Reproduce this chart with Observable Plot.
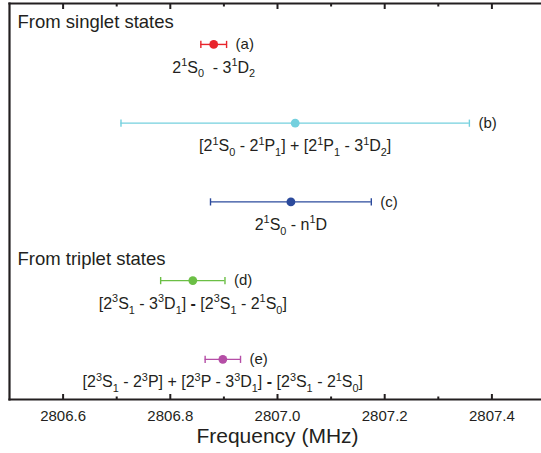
<!DOCTYPE html>
<html><head><meta charset="utf-8">
<script src="https://cdn.jsdelivr.net/npm/d3@7"></script>
<script src="https://cdn.jsdelivr.net/npm/@observablehq/plot@0.6"></script>
<style>body{margin:0;background:#fff;}</style>
</head><body><div id="chart"></div>
<script>
const ids = ["(a)", "(b)", "(c)", "(d)", "(e)"];
const rows = [0, 1, 2, 3, 4];
const centers = [2806.881, 2807.033, 2807.025, 2806.842, 2806.898];
const errors = [0.024, 0.325, 0.150, 0.060, 0.033];
const transitions = [
  "2^1S_0  - 3^1D_2",
  "[2^1S_0 - 2^1P_1] + [2^1P_1 - 3^1D_2]",
  "2^1S_0 - n^1D",
  "[2^3S_1 - 3^3D_1] {-} [2^3S_1 - 2^1S_0]",
  "[2^3S_1 - 2^3P] + [2^3P - 3^3D_1] {-} [2^3S_1 - 2^1S_0]"
];
const colors = ["#e8242b", "#74d0de", "#2b4a9c", "#6bbf45", "#b54ea6"];
const groups = ["From singlet states", "From triplet states"];
const groupRows = [0, 3];
const majorTicks = [2806.6, 2806.8, 2807.0, 2807.2, 2807.4];
const minorTicks = [2806.7, 2806.9, 2807.1, 2807.3];
const xLabel = "Frequency (MHz)";

const data = ids.map((id, i) => ({id, row: rows[i], x: centers[i], err: errors[i], label: transitions[i], color: colors[i]}));
const headings = groups.map((g, i) => ({g, row: groupRows[i]}));

const cap = {draw(ctx, size) { const r = Math.sqrt(size / Math.PI); ctx.moveTo(0, -r); ctx.lineTo(0, r); }};
const ink = "#231f20";

const chart = Plot.plot({
  width: 541, height: 453,
  marginLeft: 9, marginRight: -4, marginTop: 3, marginBottom: 54,
  style: {fontFamily: "'Liberation Sans', Arial, sans-serif", color: ink, background: "#fff", overflow: "visible"},
  x: {domain: [2806.5, 2807.5]},
  y: {domain: [-0.52, 4.51], reverse: true, axis: null},
  marks: [
    Plot.ruleY(data, {y: "row", x1: d => d.x - d.err, x2: d => d.x + d.err, stroke: "color", strokeWidth: 1.4}),
    Plot.dot(data, {x: d => d.x - d.err, y: "row", symbol: cap, r: 3.6, stroke: "color", strokeWidth: 1.4}),
    Plot.dot(data, {x: d => d.x + d.err, y: "row", symbol: cap, r: 3.6, stroke: "color", strokeWidth: 1.4}),
    Plot.dot(data, {x: "x", y: "row", r: 4.4, fill: "color", stroke: null}),
    Plot.text(data, {x: d => d.x + d.err, y: "row", text: "id", dx: 9, textAnchor: "start", fontSize: 15, fill: ink}),
    Plot.text(data, {x: "x", y: "row", text: "label", dy: 23, fontSize: 16, fill: ink, className: "rich"}),
    Plot.text(headings, {x: () => 2806.5, y: "row", text: "g", dx: 8, dy: -22, textAnchor: "start", fontSize: 18.5, fill: ink}),
    Plot.axisX({anchor: "bottom", ticks: majorTicks, tickSize: 0, tickPadding: 11, tickFormat: d => d.toFixed(1), fontSize: 15, label: null, fill: ink}),
    Plot.axisX({anchor: "bottom", ticks: majorTicks, tickSize: -5, fill: "none", label: null, strokeWidth: 2, stroke: ink}),
    Plot.axisX({anchor: "bottom", ticks: minorTicks, tickSize: -2.5, fill: "none", label: null, strokeWidth: 2, stroke: ink}),
    Plot.axisX({anchor: "top", ticks: majorTicks, tickSize: -5, fill: "none", label: null, strokeWidth: 2, stroke: ink}),
    Plot.axisX({anchor: "top", ticks: minorTicks, tickSize: -2.5, fill: "none", label: null, strokeWidth: 2, stroke: ink}),
    Plot.frame({anchor: "top", stroke: ink, strokeWidth: 2.2}),
    Plot.frame({anchor: "bottom", stroke: ink, strokeWidth: 2.2}),
    Plot.frame({anchor: "left", stroke: ink, strokeWidth: 2.2}),
    Plot.text([xLabel], {frameAnchor: "bottom", text: d => d, dy: 43, fontSize: 21, fill: ink})
  ]
});

// Render ^x as superscript, _x as subscript, {..} as bold
chart.querySelectorAll("g.rich text").forEach(t => {
  const s = t.textContent;
  const F = 16;
  t.textContent = "";
  const ns = "http://www.w3.org/2000/svg";
  let i = 0, shift = 0;
  const add = (str, mode, bold) => {
    const ts = document.createElementNS(ns, "tspan");
    ts.textContent = str;
    let target = 0;
    if (mode === "sup") { target = -0.42 * F; ts.setAttribute("font-size", 0.68 * F); }
    if (mode === "sub") { target = 0.3 * F; ts.setAttribute("font-size", 0.68 * F); }
    if (bold) ts.setAttribute("font-weight", "bold");
    const dy = target - shift;
    if (dy !== 0) ts.setAttribute("dy", dy);
    shift = target;
    t.appendChild(ts);
  };
  let buf = "";
  while (i < s.length) {
    const c = s[i];
    if (c === "^" || c === "_") {
      if (buf) { add(buf, "normal"); buf = ""; }
      add(s[i + 1], c === "^" ? "sup" : "sub");
      i += 2;
    } else if (c === "{") {
      if (buf) { add(buf, "normal"); buf = ""; }
      const j = s.indexOf("}", i);
      add(s.slice(i + 1, j), "normal", true);
      i = j + 1;
    } else { buf += c; i++; }
  }
  if (buf) add(buf, "normal");
});

document.getElementById("chart").appendChild(chart);
</script>
</body></html>
